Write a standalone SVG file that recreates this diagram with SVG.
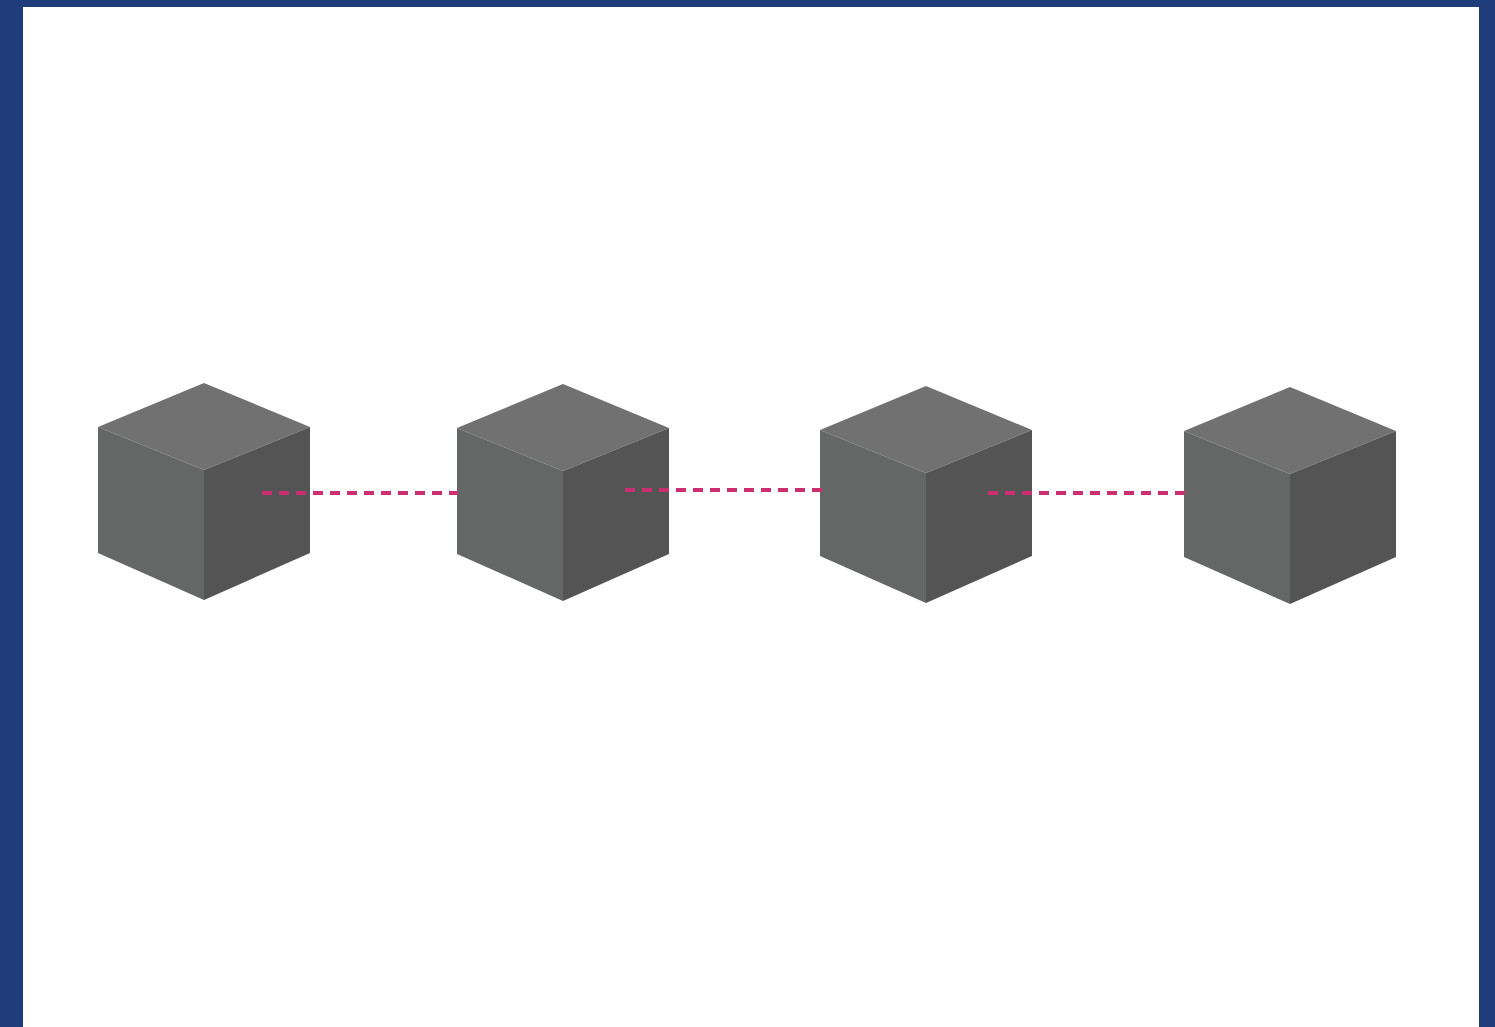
<svg xmlns="http://www.w3.org/2000/svg" xmlns:xlink="http://www.w3.org/1999/xlink" width="1495" height="1027" viewBox="0 0 1495 1027">
<style>
.top{fill:#717171}
.left{fill:#656666}
.right{fill:#545454}
.link{stroke:#cc2f6f;stroke-width:4;stroke-dasharray:10 7;fill:none}
</style>
<defs>
<g id="cube">
<polygon class="top" points="0,44 106,0 212,44 106,87"/>
<polygon class="left" points="0,44 106,87 106,217 0,170"/>
<polygon class="right" points="106,87 212,44 212,170 106,217"/>
</g>
</defs>
<rect x="0" y="0" width="1495" height="1027" fill="#1f3d7a"/>
<rect x="23" y="7" width="1456" height="1020" fill="#ffffff"/>
<g id="node1"><use xlink:href="#cube" transform="translate(98,383)"/></g>
<g id="node2"><use xlink:href="#cube" transform="translate(457,384)"/></g>
<g id="node3"><use xlink:href="#cube" transform="translate(820,386)"/></g>
<g id="node4"><use xlink:href="#cube" transform="translate(1184,387)"/></g>
<g id="connectors">
<line class="link" x1="262" y1="493" x2="458" y2="493"/>
<line class="link" x1="625" y1="490" x2="822" y2="490"/>
<line class="link" x1="988" y1="493" x2="1185" y2="493"/>
</g>
</svg>
